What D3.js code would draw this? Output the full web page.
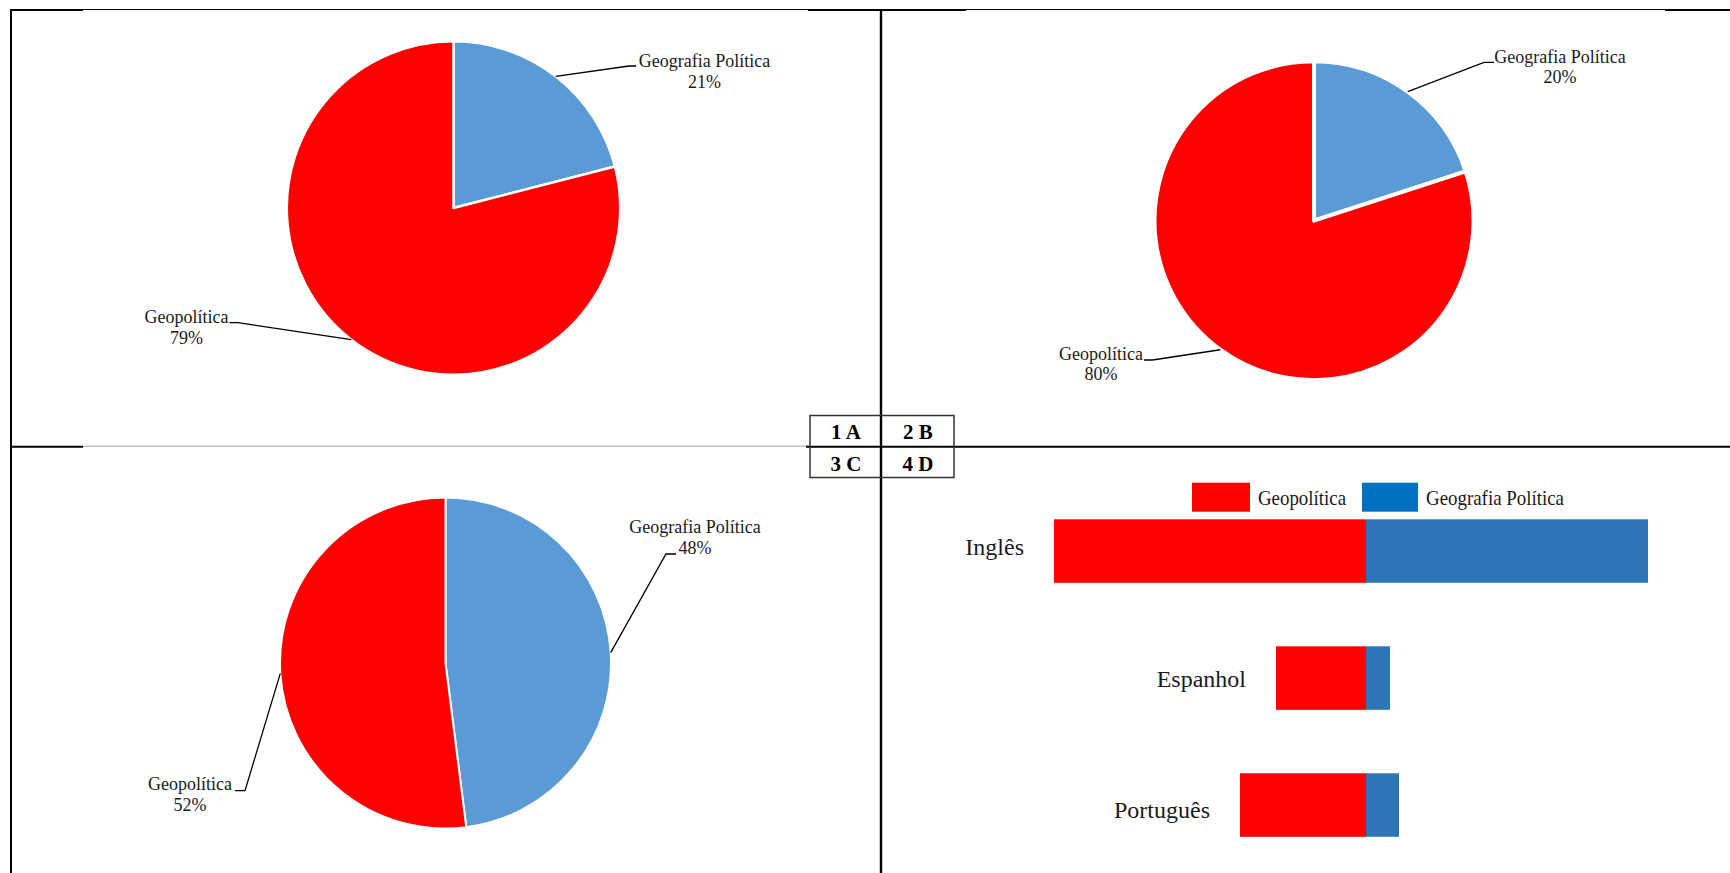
<!DOCTYPE html>
<html>
<head>
<meta charset="utf-8">
<script src="https://cdn.jsdelivr.net/npm/d3@7"></script>
<style>
  body { margin: 0; background: #fff; }
  svg { display: block; }
  text { font-family: "Liberation Serif", "Times New Roman", serif; }
</style>
</head>
<body>
<svg id="chart" width="1730" height="873"></svg>
<script>
// ---- data ----
const pieKeys = ["Geografia Política", "Geopolítica"];
const pie1Values = [21, 79];   // 1 A
const pie2Values = [20, 80];   // 2 B
const pie3Values = [48, 52];   // 3 C

const languages = ["Inglês", "Espanhol", "Português"];            // 4 D
const geopoliticaCounts = [104, 30, 42];
const geografiaPoliticaCounts = [94, 8, 11];

const panelCodes = [["1 A", "2 B"], ["3 C", "4 D"]];

// ---- setup ----
const svg = d3.select("#chart");
const pieColor = d3.scaleOrdinal().domain(pieKeys).range(["#5B9BD5", "#FF0000"]);
const barColor = d3.scaleOrdinal().domain(pieKeys).range(["#2E75B6", "#FF0000"]);
const legendColor = d3.scaleOrdinal().domain(pieKeys).range(["#0070C0", "#FF0000"]);

// ---- frame ----
const frame = svg.append("g");
function seg(x1, y1, x2, y2, w, c) {
  frame.append("line").attr("x1", x1).attr("y1", y1).attr("x2", x2).attr("y2", y2)
    .attr("stroke", c).attr("stroke-width", w);
}
// top edge: thin rule with heavier end pieces
seg(83, 9.5, 808, 9.5, 1, "#000");
seg(966, 9.5, 1665, 9.5, 1, "#000");
seg(10, 10, 83, 10, 2, "#000");
seg(808, 10, 966, 10, 2, "#000");
seg(1665, 10, 1730, 10, 2, "#000");
// middle horizontal rule
seg(83, 446.2, 808, 446.2, 1, "#a6a6a6");
seg(10, 446.7, 83, 446.7, 2, "#000");
seg(806, 446.7, 1730, 446.7, 2, "#000");
// verticals
seg(11, 9, 11, 873, 2, "#000");
seg(881, 9, 881, 873, 2.4, "#000");

// panel code table
const tbl = svg.append("g");
tbl.append("rect").attr("x", 810).attr("y", 415.5).attr("width", 144).attr("height", 62)
  .attr("fill", "none").attr("stroke", "#333").attr("stroke-width", 1.5);
const colX = [846, 918], rowY = [439, 471];
panelCodes.forEach((row, ri) => row.forEach((code, ci) => {
  tbl.append("text").attr("x", colX[ci]).attr("y", rowY[ri])
    .attr("text-anchor", "middle").attr("font-size", 21).attr("font-weight", "bold")
    .attr("fill", "#000").text(code);
}));

// ---- pies ----
const pieLayouts = [
  { values: pie1Values, cx: 453.5, cy: 208, r: 166.7, sw: 2.5,
    labels: [
      { tx: 251, ty: -141, elbow: [175.5, -142], end: [182.5, -142] },
      { tx: -267, ty: 115, elbow: [-215.5, 114.7], end: [-224, 114.7] }
    ] },
  { values: pie2Values, cx: 1314, cy: 220.7, r: 159.5, sw: 4,
    labels: [
      { tx: 246, ty: -158, elbow: [170, -158.4], end: [180, -158.4] },
      { tx: -213, ty: 139.3, elbow: [-161.5, 139.3], end: [-170, 139.3] }
    ] },
  { values: pie3Values, cx: 445.5, cy: 663, r: 165.5, sw: 2,
    labels: [
      { tx: 249.5, ty: -129.7, elbow: [220.5, -109], end: [230.5, -109] },
      { tx: -255.5, ty: 127, elbow: [-200.5, 127.7], end: [-210.5, 127.7] }
    ] }
];

const pieGen = d3.pie().sort(null).value(d => d.value);

pieLayouts.forEach(cfg => {
  const g = svg.append("g").attr("transform", `translate(${cfg.cx},${cfg.cy})`);
  const arcs = pieGen(pieKeys.map((k, i) => ({ key: k, value: cfg.values[i] })));
  const arc = d3.arc().innerRadius(0).outerRadius(cfg.r);

  g.selectAll("path.slice").data(arcs).join("path")
    .attr("class", "slice")
    .attr("d", arc)
    .attr("fill", d => pieColor(d.data.key))
    .attr("stroke", "#fff")
    .attr("stroke-width", cfg.sw)
    .attr("stroke-linejoin", "round");

  arcs.forEach((d, i) => {
    const lab = cfg.labels[i];
    const a = (d.startAngle + d.endAngle) / 2;
    const p0 = [cfg.r * Math.sin(a), -cfg.r * Math.cos(a)];
    g.append("path")
      .attr("d", d3.line()([p0, lab.elbow, lab.end]))
      .attr("fill", "none").attr("stroke", "#000").attr("stroke-width", 1.3);
    const t = g.append("text").attr("text-anchor", "middle").attr("font-size", 18).attr("fill", "#1a1a1a");
    t.append("tspan").attr("x", lab.tx).attr("y", lab.ty).attr("xml:space", "preserve").text(d.data.key);
    t.append("tspan").attr("x", lab.tx).attr("y", lab.ty + 20.5).text(`${d.data.value}%`);
  });
});

// ---- diverging bars (4 D) ----
const x = d3.scaleLinear().domain([-110, 110]).range([1036, 1696]);
const y = d3.scaleBand().domain(languages).range([519.3, 836.8]).paddingInner(0.5).paddingOuter(0);
const labelY = d3.scalePoint().domain(languages).range([555, 818]);

const rows = languages.map((lang, i) => ({
  lang, geo: geopoliticaCounts[i], gp: geografiaPoliticaCounts[i]
}));

const bars = svg.append("g");
bars.selectAll("rect.geo").data(rows).join("rect")
  .attr("class", "geo")
  .attr("x", d => x(-d.geo)).attr("y", d => y(d.lang))
  .attr("width", d => x(0) - x(-d.geo)).attr("height", y.bandwidth())
  .attr("fill", barColor("Geopolítica"));
bars.selectAll("rect.gp").data(rows).join("rect")
  .attr("class", "gp")
  .attr("x", x(0)).attr("y", d => y(d.lang))
  .attr("width", d => x(d.gp) - x(0)).attr("height", y.bandwidth())
  .attr("fill", barColor("Geografia Política"));

bars.selectAll("text.cat").data(rows).join("text")
  .attr("class", "cat")
  .attr("x", d => x(-d.geo) - 30)
  .attr("y", d => labelY(d.lang))
  .attr("text-anchor", "end").attr("font-size", 24).attr("fill", "#1a1a1a")
  .text(d => d.lang);

// legend
const legendItems = [
  { key: "Geopolítica", rx: 1192, rw: 58, tx: 1258, tw: 88 },
  { key: "Geografia Política", rx: 1362, rw: 56, tx: 1426, tw: 138 }
];
const legend = svg.append("g");
legendItems.forEach(it => {
  legend.append("rect").attr("x", it.rx).attr("y", 482.7).attr("width", it.rw).attr("height", 29)
    .attr("fill", legendColor(it.key));
  legend.append("text").attr("x", it.tx).attr("y", 505)
    .attr("font-size", 21).attr("fill", "#1a1a1a")
    .attr("textLength", it.tw).attr("lengthAdjust", "spacingAndGlyphs")
    .text(it.key);
});
</script>
</body>
</html>
